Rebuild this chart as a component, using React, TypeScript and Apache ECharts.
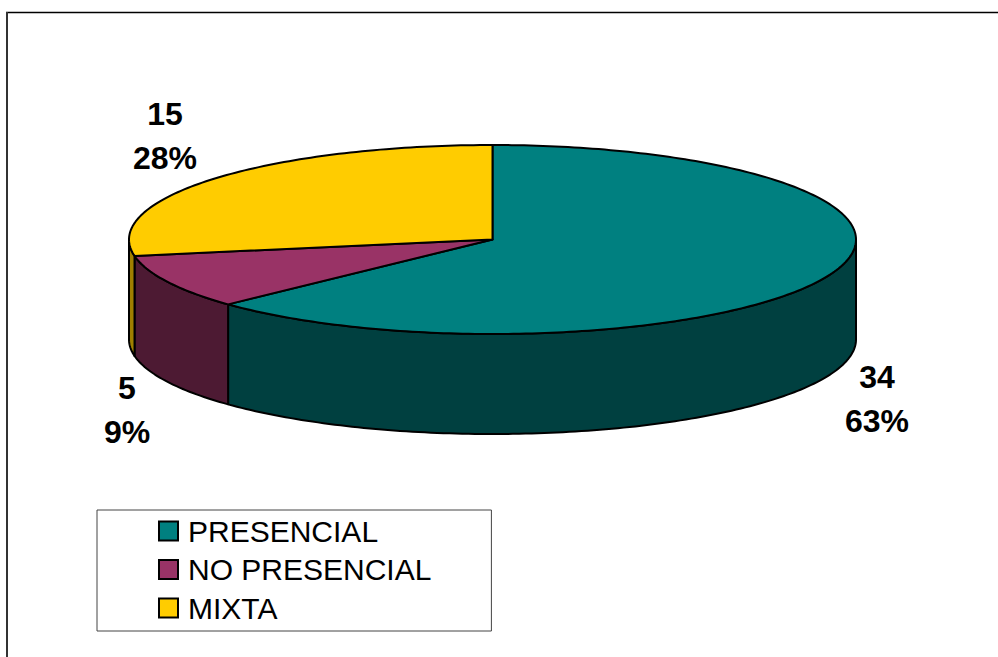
import React, { useEffect, useRef } from "react";
import * as echarts from "echarts";

const categories = ["PRESENCIAL", "NO PRESENCIAL", "MIXTA"];
const values = [34, 5, 15];
const percentLabels = ["63%", "9%", "28%"];

const topColors = ["#008080", "#993366", "#FFCC00"];
const wallColors = ["#004040", "#4D1A33", "#A08000"];
const labelCentres = [[877, 399], [127, 410], [165, 136]];

const CX = 492.5, CY = 239.5, RX = 363.5, RY = 94.5, DEPTH = 100;
const FONT = "Liberation Sans, Arial, sans-serif";

const px = (deg: number) => CX + RX * Math.sin((deg * Math.PI) / 180);
const py = (deg: number) => CY - RY * Math.cos((deg * Math.PI) / 180);

function arc(from: number, to: number): number[][] {
  const pts: number[][] = [];
  const n = Math.max(1, Math.ceil(Math.abs(to - from)));
  for (let i = 0; i <= n; i++) {
    const a = from + ((to - from) * i) / n;
    pts.push([px(a), py(a)]);
  }
  return pts;
}

const total = values.reduce((a, b) => a + b, 0);

function sliceRenderer(index: number) {
  const start = (values.slice(0, index).reduce((a, b) => a + b, 0) / total) * 360;
  return (_params: any, api: any) => {
    const value = api.value(0);
    const end = start + (value / total) * 360;
    const children: any[] = [];
    const wFrom = Math.max(start, 90);
    const wTo = Math.min(end, 270);
    if (wTo > wFrom) {
      const upper = arc(wFrom, wTo);
      const lower = upper.map(([x, y]) => [x, y + DEPTH]).reverse();
      children.push({
        type: "polygon",
        shape: { points: [...upper, ...lower] },
        style: { fill: wallColors[index], stroke: "#000", lineWidth: 2, lineJoin: "round" },
      });
    }
    children.push({
      type: "polygon",
      shape: { points: [[CX, CY], ...arc(start, end)] },
      style: { fill: topColors[index], stroke: "#000", lineWidth: 2, lineJoin: "round" },
    });
    children.push({
      type: "text",
      style: {
        x: labelCentres[index][0],
        y: labelCentres[index][1],
        text: `${value}\n${percentLabels[index]}`,
        font: `bold 32px ${FONT}`,
        lineHeight: 44,
        fill: "#000",
        align: "center",
        verticalAlign: "middle",
      },
    });
    return { type: "group", children };
  };
}

export default function App() {
  const ref = useRef<HTMLDivElement>(null);
  useEffect(() => {
    document.body.style.margin = "0";
    const chart = echarts.init(ref.current!, null, { renderer: "svg" });
    chart.setOption({
      animation: false,
      backgroundColor: "#fff",
      legend: {
        orient: "vertical",
        left: 97,
        top: 510,
        padding: [6, 60, 8, 61],
        itemWidth: 19,
        itemHeight: 19,
        itemGap: 8.5,
        icon: "rect",
        borderColor: "#444",
        borderWidth: 1,
        selectedMode: false,
        itemStyle: { borderColor: "#000", borderWidth: 2 },
        textStyle: { fontFamily: FONT, fontSize: 30, color: "#000", padding: [0, 0, 0, 5] },
        data: categories,
      },
      graphic: [
        { type: "line", shape: { x1: 6, y1: 12.5, x2: 998, y2: 12.5 }, style: { stroke: "#000", lineWidth: 1.5 } },
        { type: "line", shape: { x1: 7, y1: 12, x2: 7, y2: 657 }, style: { stroke: "#333", lineWidth: 2 } },
      ],
      series: categories.map((name, i) => ({
        type: "custom",
        name,
        coordinateSystem: "none",
        itemStyle: { color: topColors[i] },
        renderItem: sliceRenderer(i),
        data: [[values[i]]],
        silent: true,
        clip: false,
      })),
    });
    return () => chart.dispose();
  }, []);
  return <div ref={ref} style={{ position: "absolute", left: 0, top: 0, width: 998, height: 657 }} />;
}
